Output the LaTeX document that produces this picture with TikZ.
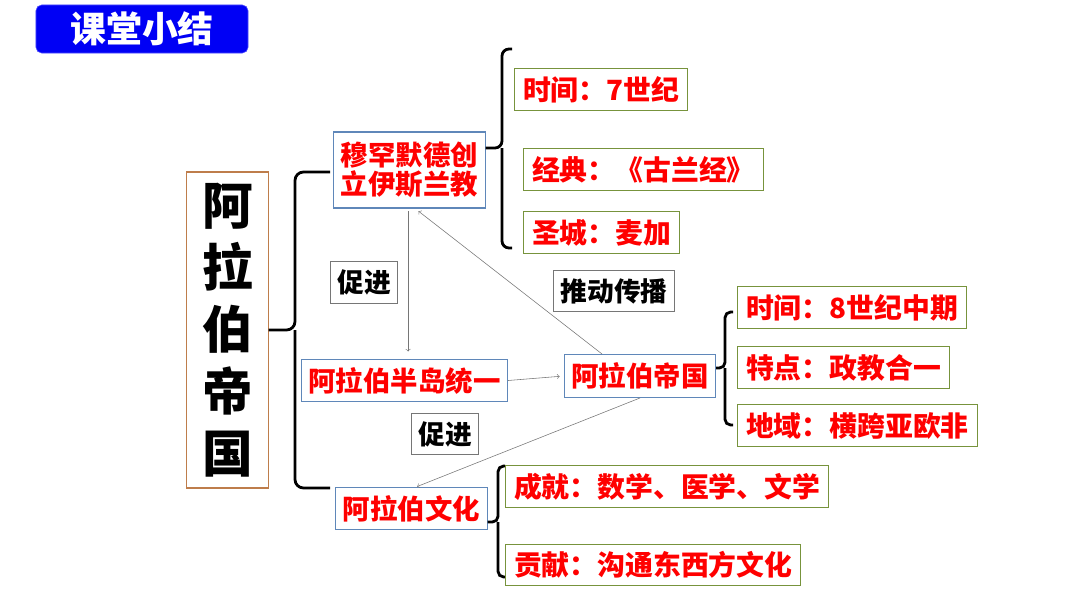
\documentclass[tikz,border=0pt]{standalone}
\usepackage{fontspec}
\setmainfont{Noto Sans CJK SC}
\definecolor{boxblue}{RGB}{95,135,185}
\definecolor{leafgreen}{RGB}{119,147,60}
\definecolor{tanbrown}{RGB}{190,125,75}
\definecolor{titleblue}{RGB}{0,0,245}
\definecolor{linkgray}{RGB}{118,118,118}

\begin{document}
\begin{tikzpicture}[x=0.025cm,y=-0.025cm,font=\bfseries,
 topic/.style={draw=boxblue,thick,text=red,inner xsep=5pt,minimum height=1.07cm,font=\bfseries\fontsize{19.5}{21}\selectfont},
 leaf/.style={draw=leafgreen,thick,text=red,anchor=west,inner xsep=6pt,minimum height=1.04cm,font=\bfseries\fontsize{19.8}{23}\selectfont},
 tag/.style={draw=linkgray,thick,inner xsep=5pt,minimum height=1.04cm,font=\bfseries\fontsize{19}{21}\selectfont},
 link/.style={->,draw=linkgray,thin},
 brace/.style={line width=2pt,rounded corners=6pt}]
\useasboundingbox (0,0) rectangle (1080,605);
% title
\node[fill=titleblue,draw=blue!70,rounded corners=4pt,text=white,minimum width=5.3cm,minimum height=1.2cm,font=\bfseries\fontsize{25.5}{28}\selectfont] (title) at (142,29) {课堂小结};
% main topic
\node[draw=tanbrown,thick,minimum width=2.03cm,minimum height=7.9cm,align=center,font=\bfseries\fontsize{36}{44}\selectfont] (arab) at (227.5,330) {阿\\拉\\伯\\帝\\国};
\draw[brace] (arab.east) -- (295,330) |- (330,172);
\draw[brace] (295,330) |- (330,488);
% middle column
\node[topic,align=center,minimum height=1.9cm] (mhmd) at (409.5,170) {穆罕默德创\\立伊斯兰教};
\node[topic] (unify) at (404.5,380.5) {阿拉伯半岛统一};
\node[topic] (empire) at (640,376) {阿拉伯帝国};
\node[topic] (culture) at (411.5,508.5) {阿拉伯文化};
\node[tag] (promote1) at (364,282.5) {促进};
\node[tag] (promote2) at (445,434) {促进};
\node[tag] (spread) at (614,291) {推动传播};
\draw[link,shorten <=2pt,shorten >=5pt] ([xshift=-1pt]mhmd.south) -- ([xshift=-1pt]mhmd.south |- unify.north);
\draw[link,shorten >=3pt] (unify.east) -- (empire.west);
\draw[link,shorten >=3pt] ([xshift=-27pt]empire.north) -- ([xshift=4pt]mhmd.south);
\draw[link] (empire.south) -- ([xshift=4pt]culture.north);
% details
\draw[brace,rounded corners=5pt] (mhmd.east |- 0,148) -- (502,148) |- (512,49);
\draw[brace,rounded corners=5pt] (502,148) |- (512,248);
\node[leaf] (t7) at (514,89.5) {时间：7世纪};
\node[leaf] (quran) at (523,169.5) {经典：《古兰经》};
\node[leaf] (mecca) at (523,232.5) {圣城：麦加};
\draw[brace,rounded corners=4pt] (empire.east |- 0,368) -- (725,368) |- (733,312);
\draw[brace,rounded corners=4pt] (725,368) |- (733,425);
\node[leaf] (t8) at (737,307.5) {时间：8世纪中期};
\node[leaf] (feat) at (737,367.5) {特点：政教合一};
\node[leaf] (area) at (737,425.5) {地域：横跨亚欧非};
\draw[brace,rounded corners=4pt] (culture.east |- 0,522) -- (498,522) |- (505,466);
\draw[brace,rounded corners=4pt] (498,522) |- (505,577);
\node[leaf] (achv) at (505,486.5) {成就：数学、医学、文学};
\node[leaf] (contr) at (505,565) {贡献：沟通东西方文化};
\end{tikzpicture}
\end{document}
